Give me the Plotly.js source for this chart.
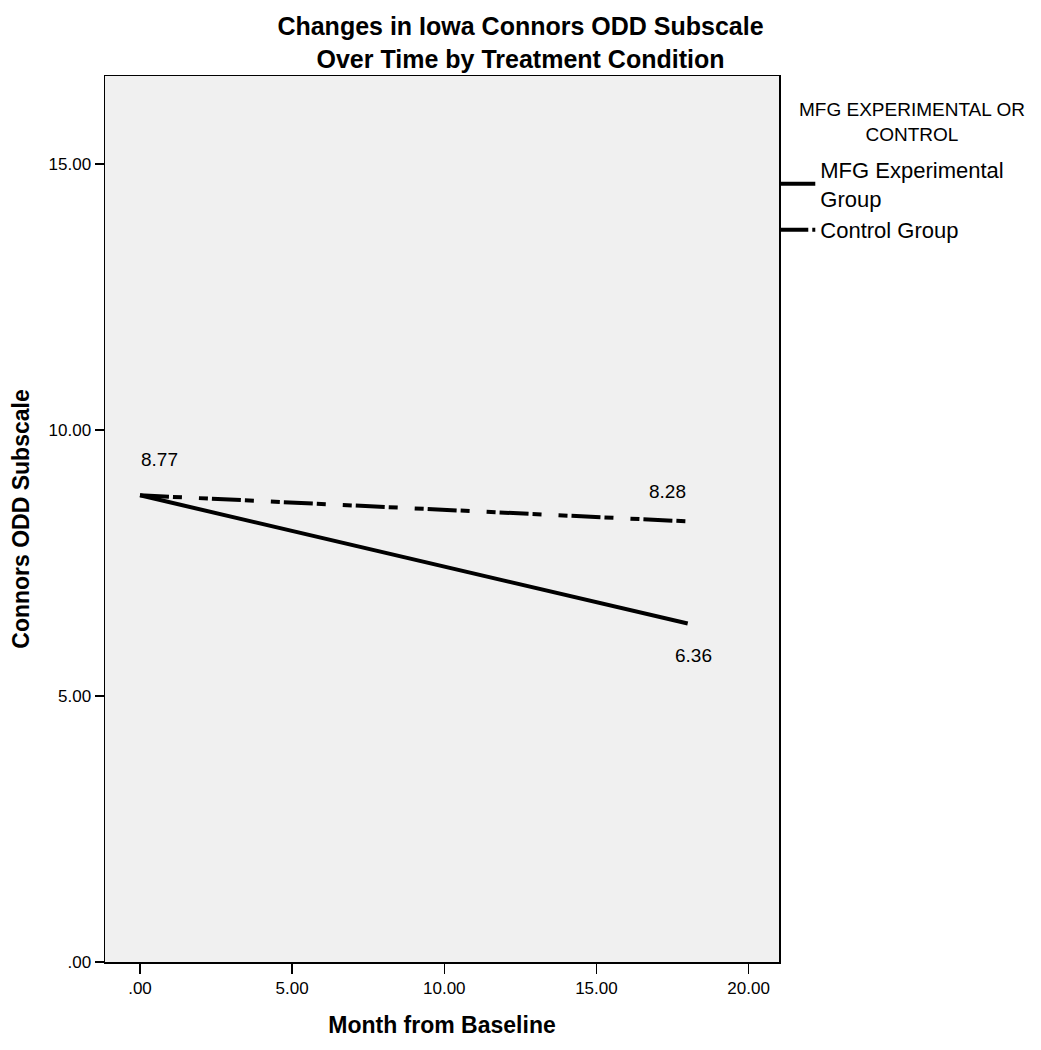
<!DOCTYPE html>
<html>
<head>
<meta charset="utf-8">
<script src="https://cdn.plot.ly/plotly-3.0.1.min.js"></script>
<style>html,body{margin:0;padding:0;background:#fff;}#chart{width:1041px;height:1050px;}</style>
</head>
<body>
<div id="chart"></div>
<script>
const months = [0, 18];
const experimentalValues = [8.77, 6.36];
const controlValues = [8.77, 8.28];
const seriesNames = ["MFG Experimental<br>Group", "Control Group"];
const legendTitle = "MFG EXPERIMENTAL OR<br>CONTROL";
const xTickVals = [0, 5, 10, 15, 20];
const xTickText = [".00", "5.00", "10.00", "15.00", "20.00"];
const yTickVals = [0, 5, 10, 15];
const yTickText = [".00", "5.00", "10.00", "15.00"];

const FONT = "Liberation Sans, Arial, Helvetica, sans-serif";

const traces = [
  {x: months, y: experimentalValues, name: seriesNames[0], mode: "lines",
   line: {color: "#000", width: 4}, hoverinfo: "skip"},
  {x: months, y: controlValues, name: seriesNames[1], mode: "lines",
   line: {color: "#000", width: 4, dash: "29px,4px,9px,17px,9px,4px"}, hoverinfo: "skip"}
];

const fmt = v => v.toFixed(2);
const annotations = [
  {x: months[0], y: experimentalValues[0], text: fmt(experimentalValues[0]), xshift: 20, yshift: 36},
  {x: months[1], y: controlValues[1], text: fmt(controlValues[1]), xshift: -20, yshift: 30},
  {x: months[1], y: experimentalValues[1], text: fmt(experimentalValues[1]), xshift: 6, yshift: -32}
].map(a => Object.assign({xref: "x", yref: "y", showarrow: false, font: {family: FONT, size: 19, color: "#000"}}, a));

annotations.push({
  xref: "paper", yref: "paper", x: 1.197, y: 0.948, xanchor: "center", yanchor: "middle",
  text: legendTitle, align: "center", showarrow: false,
  font: {family: FONT, size: 19, color: "#000"}
});

const axisCommon = {
  showline: true, mirror: true, linecolor: "#000", linewidth: 1.5,
  showgrid: false, zeroline: false, ticks: "outside", ticklen: 10, tickwidth: 1.5, tickcolor: "#000",
  tickfont: {family: FONT, size: 17, color: "#000"}, tickmode: "array"
};

const layout = {
  width: 1041, height: 1050,
  margin: {l: 105, r: 262, t: 76, b: 88},
  paper_bgcolor: "#fff", plot_bgcolor: "#f0f0f0",
  title: {text: "Changes in Iowa Connors ODD Subscale<br>Over Time by Treatment Condition",
          x: 0.5, xref: "container", y: 1 - 35 / 1050, yref: "container", yanchor: "middle",
          font: {family: FONT, size: 25, color: "#000", weight: "bold"}},
  xaxis: Object.assign({}, axisCommon, {range: [-1.15, 21.0], tickvals: xTickVals, ticktext: xTickText,
          title: {text: "<b>Month from Baseline</b>", font: {family: FONT, size: 23, color: "#000"}, standoff: 20}}),
  yaxis: Object.assign({}, axisCommon, {range: [0, 16.65], tickvals: yTickVals, ticktext: yTickText, ticklen: 9,
          title: {text: "<b>Connors ODD Subscale</b>", font: {family: FONT, size: 23, color: "#000"}, standoff: 12}}),
  showlegend: true,
  legend: {x: 0.993, xanchor: "left", y: 0.918, yanchor: "top", bgcolor: "rgba(0,0,0,0)", borderwidth: 0,
           font: {family: FONT, size: 22, color: "#000"}, tracegroupgap: 0, itemwidth: 36},
  annotations: annotations
};

Plotly.newPlot("chart", traces, layout, {displayModeBar: false, staticPlot: true});
</script>
</body>
</html>
